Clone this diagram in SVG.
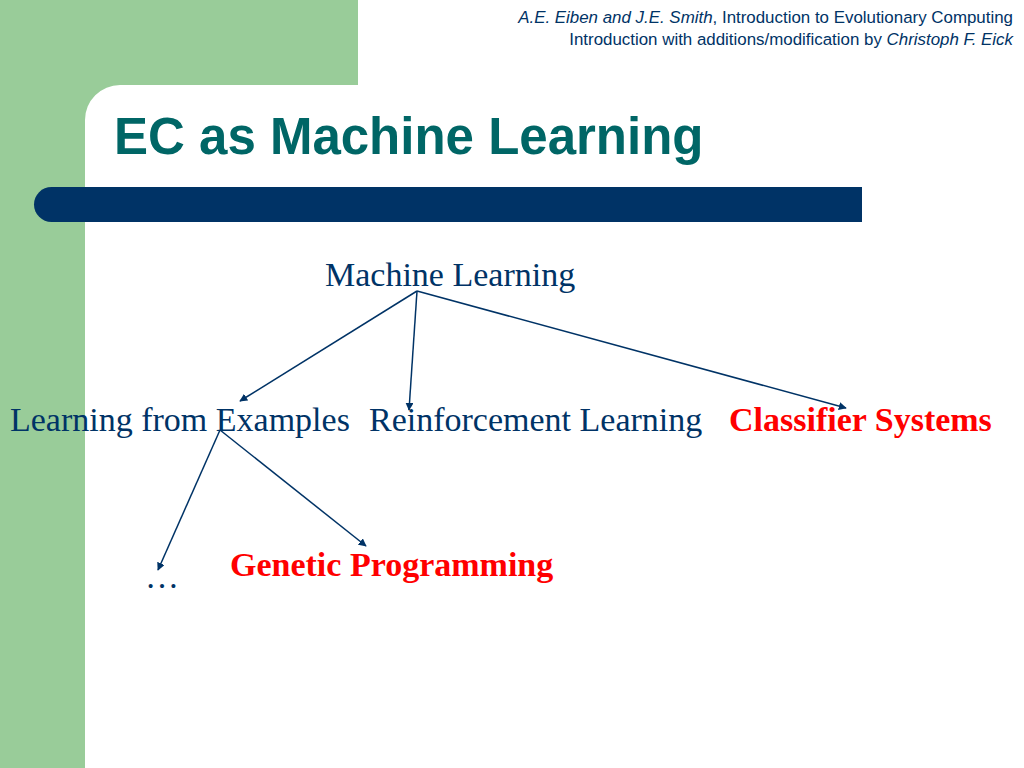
<svg xmlns="http://www.w3.org/2000/svg" width="1024" height="768" viewBox="0 0 1024 768">
<style>
.hdr{font-family:"Liberation Sans",Arial,sans-serif;font-size:16.9px;fill:#003366}
.title{font-family:"Liberation Sans",Arial,sans-serif;font-size:51px;font-weight:bold;fill:#006666}
.node{font-family:"Liberation Serif","Times New Roman",serif;font-size:34px;fill:#003366}
.red{font-family:"Liberation Serif","Times New Roman",serif;font-size:34px;font-weight:bold;fill:#FF0000}
.edge{stroke:#003366;stroke-width:1.5;fill:none;marker-end:url(#ah)}
</style>
<defs>
<marker id="ah" viewBox="0 0 10 10" refX="9" refY="5" markerWidth="8" markerHeight="8" markerUnits="userSpaceOnUse" orient="auto">
<path d="M0,0 L10,5 L0,10 z" fill="#003366"/>
</marker>
</defs>
<rect width="1024" height="768" fill="#FFFFFF"/>
<g id="background">
<path d="M0,0 H358 V85 H120 A35,35 0 0 0 85,120 V768 H0 Z" fill="#99CC99"/>
<path d="M51.5,187 H862 V222 H51.5 A17.5,17.5 0 0 1 51.5,187 Z" fill="#003366"/>
</g>
<g id="header">
<text class="hdr" x="1013" y="23" text-anchor="end"><tspan font-style="italic">A.E. Eiben and J.E. Smith</tspan>, Introduction to Evolutionary Computing</text>
<text class="hdr" x="1013" y="45" text-anchor="end">Introduction with additions/modification by <tspan font-style="italic">Christoph F. Eick</tspan></text>
</g>
<text class="title" x="114" y="154">EC as Machine Learning</text>
<g id="connectors">
<line class="edge" x1="417" y1="291" x2="240" y2="401"/>
<line class="edge" x1="417" y1="291" x2="409" y2="410"/>
<line class="edge" x1="417" y1="291" x2="846" y2="408"/>
<line class="edge" x1="220" y1="430" x2="158" y2="570"/>
<line class="edge" x1="220" y1="430" x2="366" y2="546"/>
</g>
<g id="n-ml"><text class="node" x="325" y="286">Machine Learning</text></g>
<g id="n-lfe"><text class="node" x="10" y="431">Learning from Examples</text></g>
<g id="n-rl"><text class="node" x="369" y="431">Reinforcement Learning</text></g>
<g id="n-cs"><text class="red" x="729" y="431">Classifier Systems</text></g>
<g id="n-dots"><text class="node" x="145" y="588">…</text></g>
<g id="n-gp"><text class="red" x="230" y="576">Genetic Programming</text></g>
</svg>
